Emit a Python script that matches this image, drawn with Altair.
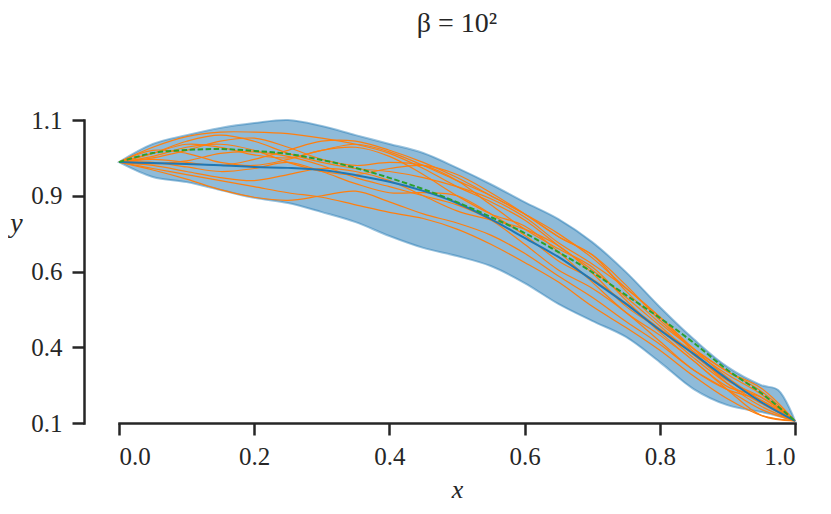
import altair as alt
import pandas as pd

# ---------------- data ----------------
x_grid = [0.0, 0.05, 0.1, 0.15, 0.2, 0.25, 0.3, 0.35, 0.4, 0.45, 0.5,
          0.55, 0.6, 0.65, 0.7, 0.75, 0.8, 0.85, 0.9, 0.95, 1.0]

band_x = [0.0, 0.05, 0.1, 0.15, 0.2, 0.25, 0.3, 0.35, 0.4, 0.45, 0.5,
          0.55, 0.6, 0.65, 0.7, 0.75, 0.8, 0.85, 0.9, 0.95, 0.975, 1.0]
band_upper = [0.961, 1.021, 1.050, 1.074, 1.090, 1.100, 1.080, 1.050, 1.021, 0.991, 0.942,
              0.888, 0.829, 0.773, 0.697, 0.598, 0.483, 0.377, 0.285, 0.225, 0.209, 0.107]
band_lower = [0.961, 0.912, 0.895, 0.869, 0.843, 0.826, 0.796, 0.763, 0.717, 0.678, 0.651,
              0.618, 0.562, 0.493, 0.437, 0.384, 0.301, 0.212, 0.159, 0.136, 0.123, 0.107]

mean_y = [0.961, 0.958, 0.955, 0.951, 0.945, 0.942, 0.935, 0.918, 0.896, 0.866, 0.826,
          0.773, 0.711, 0.648, 0.572, 0.493, 0.407, 0.328, 0.245, 0.169, 0.107]
truth_y = [0.961, 0.991, 1.001, 1.004, 0.998, 0.988, 0.968, 0.942, 0.909, 0.872, 0.829,
           0.780, 0.727, 0.664, 0.598, 0.522, 0.447, 0.365, 0.275, 0.199, 0.107]

samples = {
    "s1":  [0.961, 1.010, 1.045, 1.060, 1.060, 1.055, 1.040, 1.020, 0.990, 0.940, 0.880, 0.830, 0.770, 0.685, 0.605, 0.515, 0.420, 0.325, 0.240, 0.185, 0.107],
    "s2":  [0.961, 0.935, 0.905, 0.870, 0.845, 0.835, 0.850, 0.865, 0.830, 0.790, 0.760, 0.720, 0.660, 0.585, 0.515, 0.435, 0.360, 0.275, 0.210, 0.145, 0.107],
    "s3":  [0.961, 0.990, 1.020, 1.010, 0.985, 0.975, 1.000, 1.020, 0.995, 0.950, 0.900, 0.850, 0.790, 0.725, 0.645, 0.545, 0.450, 0.345, 0.250, 0.175, 0.107],
    "s4":  [0.961, 0.960, 0.945, 0.930, 0.940, 0.960, 0.930, 0.890, 0.860, 0.860, 0.850, 0.790, 0.720, 0.635, 0.575, 0.495, 0.410, 0.315, 0.230, 0.165, 0.107],
    "s5":  [0.961, 0.975, 1.000, 1.030, 1.040, 1.010, 0.970, 0.950, 0.960, 0.950, 0.900, 0.820, 0.740, 0.675, 0.615, 0.505, 0.400, 0.305, 0.220, 0.185, 0.107],
    "s6":  [0.961, 0.950, 0.930, 0.910, 0.900, 0.920, 0.940, 0.930, 0.900, 0.850, 0.800, 0.770, 0.740, 0.685, 0.595, 0.485, 0.410, 0.335, 0.260, 0.195, 0.107],
    "s7":  [0.961, 1.000, 0.990, 0.960, 0.950, 0.970, 1.000, 1.010, 0.980, 0.920, 0.850, 0.790, 0.750, 0.665, 0.565, 0.465, 0.390, 0.305, 0.210, 0.125, 0.107],
    "s8":  [0.961, 0.940, 0.920, 0.900, 0.880, 0.860, 0.845, 0.820, 0.795, 0.775, 0.740, 0.690, 0.630, 0.565, 0.485, 0.415, 0.340, 0.255, 0.180, 0.125, 0.107],
    "s9":  [0.961, 0.990, 1.030, 1.050, 1.030, 0.990, 0.960, 0.940, 0.930, 0.910, 0.880, 0.840, 0.780, 0.695, 0.625, 0.545, 0.450, 0.335, 0.230, 0.155, 0.107],
    "s10": [0.961, 0.970, 0.960, 0.950, 0.970, 1.000, 1.030, 1.030, 1.000, 0.960, 0.910, 0.850, 0.790, 0.715, 0.655, 0.555, 0.440, 0.345, 0.270, 0.215, 0.107],
    "s11": [0.961, 0.955, 0.965, 0.990, 0.995, 0.980, 0.950, 0.910, 0.880, 0.850, 0.820, 0.770, 0.690, 0.605, 0.545, 0.465, 0.370, 0.275, 0.210, 0.175, 0.107],
    "s12": [0.961, 0.980, 1.010, 1.020, 1.000, 0.960, 0.930, 0.920, 0.940, 0.950, 0.920, 0.860, 0.790, 0.715, 0.655, 0.535, 0.430, 0.345, 0.270, 0.205, 0.107],
}

x_tick_values = [0.0, 0.2, 0.4, 0.6, 0.8, 1.0]
y_tick_values = [0.1, 0.35, 0.6, 0.85, 1.1]
y_tick_labels = ["0.1", "0.4", "0.6", "0.9", "1.1"]

# ---------------- tables ----------------
band_df = pd.DataFrame({"x": band_x, "lo": band_lower, "hi": band_upper})
mean_df = pd.DataFrame({"x": x_grid, "y": mean_y})
truth_df = pd.DataFrame({"x": x_grid, "y": truth_y})
samp_df = pd.concat(
    [pd.DataFrame({"x": x_grid, "y": v, "s": k}) for k, v in samples.items()],
    ignore_index=True,
)

FONT = "Liberation Serif"
INK = "#262626"

label_expr = " : ".join(
    f"abs(datum.value - {v}) < 0.01 ? '{t}'" for v, t in zip(y_tick_values, y_tick_labels)
) + " : ''"

xs = alt.Scale(domain=[0, 1], nice=False, zero=False)
ys = alt.Scale(domain=[0.1, 1.1], nice=False, zero=False)

x_enc = alt.X(
    "x:Q", scale=xs,
    axis=alt.Axis(values=x_tick_values, format=".1f", title="x",
                  titleFontStyle="italic", titleFontSize=26, titleY=66,
                  titleBaseline="middle", labelPadding=9),
)
y_enc_axis = alt.Axis(values=y_tick_values, labelExpr=label_expr, title="y",
                      titleFontStyle="italic", titleAngle=0, titleX=-68, titleY=103,
                      titleAlign="center", titleBaseline="middle",
                      offset=35, labelPadding=10)

band = alt.Chart(band_df).mark_area(
    color="#1f77b4", fillOpacity=0.5, stroke="#1f77b4", strokeOpacity=0.45,
    strokeWidth=2, interpolate="catmull-rom",
).encode(
    x=x_enc,
    y=alt.Y("lo:Q", scale=ys, axis=y_enc_axis),
    y2="hi:Q",
)

orange = alt.Chart(samp_df).mark_line(
    color="#ff7f0e", strokeWidth=1.2, interpolate="catmull-rom",
).encode(x="x:Q", y="y:Q", detail="s:N")

mean = alt.Chart(mean_df).mark_line(
    color="#1f77b4", strokeWidth=2, interpolate="catmull-rom",
).encode(x="x:Q", y="y:Q")

truth = alt.Chart(truth_df).mark_line(
    color="#2ca02c", strokeWidth=2, strokeDash=[5.5, 2.5], interpolate="catmull-rom",
).encode(x="x:Q", y="y:Q")

chart = (
    alt.layer(band, orange, mean, truth)
    .properties(
        width=676, height=303,
        title=alt.TitleParams(text="β = 10²", font=FONT, fontSize=28,
                              fontWeight="normal", color=INK, anchor="middle", offset=70),
        autosize=alt.AutoSizeParams(type="none"),
        padding={"left": 111, "top": 112, "right": 20, "bottom": 82},
    )
    .configure_view(stroke=None)
    .configure_axis(
        grid=False, domainColor=INK, domainWidth=2.5, tickColor=INK, tickWidth=2.5,
        tickSize=12, labelFont=FONT, labelFontSize=25, labelColor=INK,
        titleFont=FONT, titleFontSize=28, titleColor=INK, titleFontWeight="normal",
        domainCap="square",
    )
)

chart.save("out.html", embed_options={"renderer": "svg", "actions": False})
